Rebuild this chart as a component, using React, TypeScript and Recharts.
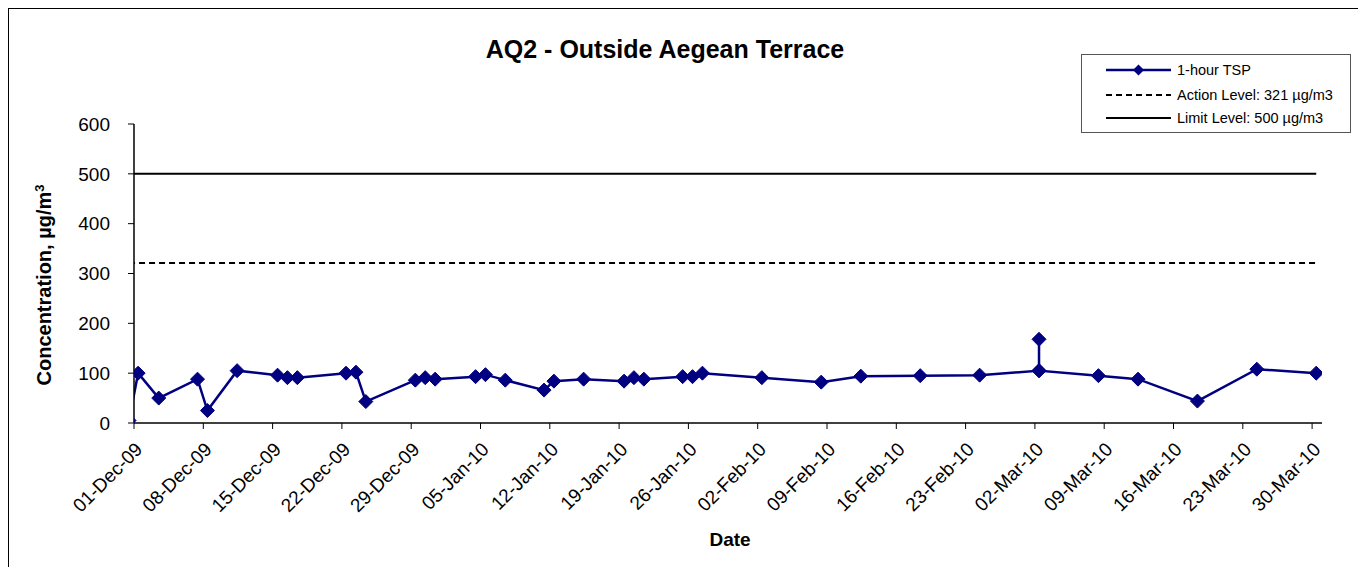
import React from "react";
import { LineChart, Line, XAxis, YAxis } from "recharts";

const DAY = 86400000;
const FONT = "Arial, 'Liberation Sans', Helvetica, sans-serif";

// sampling times (UTC) and 1-hour TSP values (µg/m3)
const sampleTimes: string[] = [
  "2009-11-30T12:00", "2009-12-01T10:00", "2009-12-03T12:00", "2009-12-07T10:00",
  "2009-12-08T10:00", "2009-12-11T10:00", "2009-12-15T12:00", "2009-12-16T12:00",
  "2009-12-17T12:00", "2009-12-22T10:00", "2009-12-23T10:00", "2009-12-24T10:00",
  "2009-12-29T10:00", "2009-12-30T10:00", "2009-12-31T10:00", "2010-01-04T12:00",
  "2010-01-05T12:00", "2010-01-07T12:00", "2010-01-11T10:00", "2010-01-12T10:00",
  "2010-01-15T10:00", "2010-01-19T12:00", "2010-01-20T12:00", "2010-01-21T12:00",
  "2010-01-25T10:00", "2010-01-26T10:00", "2010-01-27T10:00", "2010-02-02T10:00",
  "2010-02-08T10:00", "2010-02-12T10:00", "2010-02-18T10:00", "2010-02-24T10:00",
  "2010-03-02T10:00", "2010-03-02T10:00", "2010-03-02T10:00", "2010-03-08T10:00",
  "2010-03-12T10:00", "2010-03-18T10:00", "2010-03-24T10:00", "2010-03-30T10:00",
];
const tspValues: number[] = [
  5, 100, 50, 88,
  25, 105, 96, 91,
  91, 100, 102, 43,
  86, 91, 88, 93,
  97, 86, 66, 84,
  88, 84, 91, 88,
  93, 93, 100, 91,
  82, 94, 95, 96,
  105, 168, 105, 95,
  88, 44, 108, 100,
];
const actionLevel = 321;
const limitLevel = 500;

const axisStart = "2009-12-01T00:00";
const axisEnd = "2010-03-31T00:00";
const yTicks: number[] = [0, 100, 200, 300, 400, 500, 600];
const monthNames: string[] = ["Jan", "Feb", "Mar", "Apr", "May", "Jun", "Jul", "Aug", "Sep", "Oct", "Nov", "Dec"];

function parseUTC(s: string): number {
  const [d, t] = s.split("T");
  const [y, m, dd] = d.split("-").map(Number);
  const [hh, mm] = t.split(":").map(Number);
  return Date.UTC(y, m - 1, dd, hh, mm);
}

const startMs = parseUTC(axisStart);
const endMs = parseUTC(axisEnd);
const xTicks: number[] = [];
for (let t = startMs; t < endMs; t += 7 * DAY) xTicks.push(t);

function fmtDate(ms: number): string {
  const d = new Date(ms);
  const dd = String(d.getUTCDate()).padStart(2, "0");
  const yy = String(d.getUTCFullYear() % 100).padStart(2, "0");
  return `${dd}-${monthNames[d.getUTCMonth()]}-${yy}`;
}

const data = sampleTimes.map((s, i) => ({
  t: parseUTC(s),
  tsp: tspValues[i],
  action: actionLevel,
  limit: limitLevel,
}));

const Diamond = (props: any) => {
  const { cx, cy } = props;
  if (cx == null || cy == null) return null;
  const r = 7;
  return (
    <polygon
      points={`${cx},${cy - r} ${cx + r},${cy} ${cx},${cy + r} ${cx - r},${cy}`}
      fill="#000080"
      stroke="#000080"
      strokeWidth={1}
    />
  );
};

const XTick = (props: any) => {
  const { x, y, payload } = props;
  const tx = x + 5;
  const ty = y + 15;
  return (
    <text
      x={tx}
      y={ty}
      transform={`rotate(-45, ${tx}, ${ty})`}
      textAnchor="end"
      dominantBaseline="central"
      fontFamily={FONT}
      fontSize={19}
      fill="#000"
    >
      {fmtDate(payload.value)}
    </text>
  );
};

export default function App() {
  return (
    <div
      style={{
        position: "relative",
        width: 1352,
        height: 575,
        border: "1px solid #000",
        background: "#fff",
        fontFamily: FONT,
      }}
    >
      <div
        style={{
          position: "absolute",
          left: 0,
          width: 1312,
          top: 28,
          textAlign: "center",
          fontSize: 25,
          fontWeight: "bold",
          lineHeight: "25px",
        }}
      >
        AQ2 - Outside Aegean Terrace
      </div>

      <LineChart
        width={1350}
        height={558}
        data={data}
        margin={{ top: 115, right: 37, bottom: 54, left: 65 }}
      >
        <XAxis
          dataKey="t"
          type="number"
          domain={[startMs, endMs]}
          allowDataOverflow
          ticks={xTicks}
          interval={0}
          tick={<XTick />}
          tickSize={6}
          tickLine={{ stroke: "#000" }}
          axisLine={{ stroke: "#000", strokeWidth: 1.5 }}
          height={90}
        />
        <YAxis
          type="number"
          domain={[0, 600]}
          ticks={yTicks}
          interval={0}
          width={60}
          tickSize={6}
          tickMargin={18}
          tickLine={{ stroke: "#000" }}
          axisLine={{ stroke: "#000", strokeWidth: 1.5 }}
          tick={{ fontSize: 19, fill: "#000", fontFamily: FONT }}
        />
        <Line
          dataKey="limit"
          stroke="#000"
          strokeWidth={2}
          dot={false}
          activeDot={false}
          isAnimationActive={false}
        />
        <Line
          dataKey="action"
          stroke="#000"
          strokeWidth={2}
          strokeDasharray="6 4"
          dot={false}
          activeDot={false}
          isAnimationActive={false}
        />
        <Line
          dataKey="tsp"
          stroke="#000080"
          strokeWidth={2.5}
          dot={<Diamond />}
          activeDot={false}
          isAnimationActive={false}
        />
      </LineChart>

      <div
        style={{
          position: "absolute",
          left: 35,
          top: 276,
          transform: "translate(-50%, -50%) rotate(-90deg)",
          fontSize: 20,
          fontWeight: "bold",
          whiteSpace: "nowrap",
        }}
      >
        Concentration, µg/m<sup style={{ fontSize: 13 }}>3</sup>
      </div>

      <div
        style={{
          position: "absolute",
          left: 721,
          top: 531,
          transform: "translate(-50%, -50%)",
          fontSize: 19,
          fontWeight: "bold",
        }}
      >
        Date
      </div>

      <div
        style={{
          position: "absolute",
          left: 1072,
          top: 45,
          width: 268,
          height: 77,
          border: "1px solid #555",
          background: "#fff",
          fontSize: 14.5,
        }}
      >
        <svg width={268} height={77} style={{ position: "absolute", left: 0, top: 0 }}>
          <line x1={24} x2={89} y1={15} y2={15} stroke="#000080" strokeWidth={2.5} />
          <polygon points="56.5,9.5 62,15 56.5,20.5 51,15" fill="#000080" />
          <line x1={24} x2={89} y1={40} y2={40} stroke="#000" strokeWidth={2} strokeDasharray="6 4" />
          <line x1={24} x2={89} y1={63} y2={63} stroke="#000" strokeWidth={2} />
          <text x={95} y={15} dominantBaseline="central" fontFamily={FONT} fontSize={14.5}>1-hour TSP</text>
          <text x={95} y={40} dominantBaseline="central" fontFamily={FONT} fontSize={14.5}>Action Level: 321 µg/m3</text>
          <text x={95} y={63} dominantBaseline="central" fontFamily={FONT} fontSize={14.5}>Limit Level: 500 µg/m3</text>
        </svg>
      </div>
    </div>
  );
}
